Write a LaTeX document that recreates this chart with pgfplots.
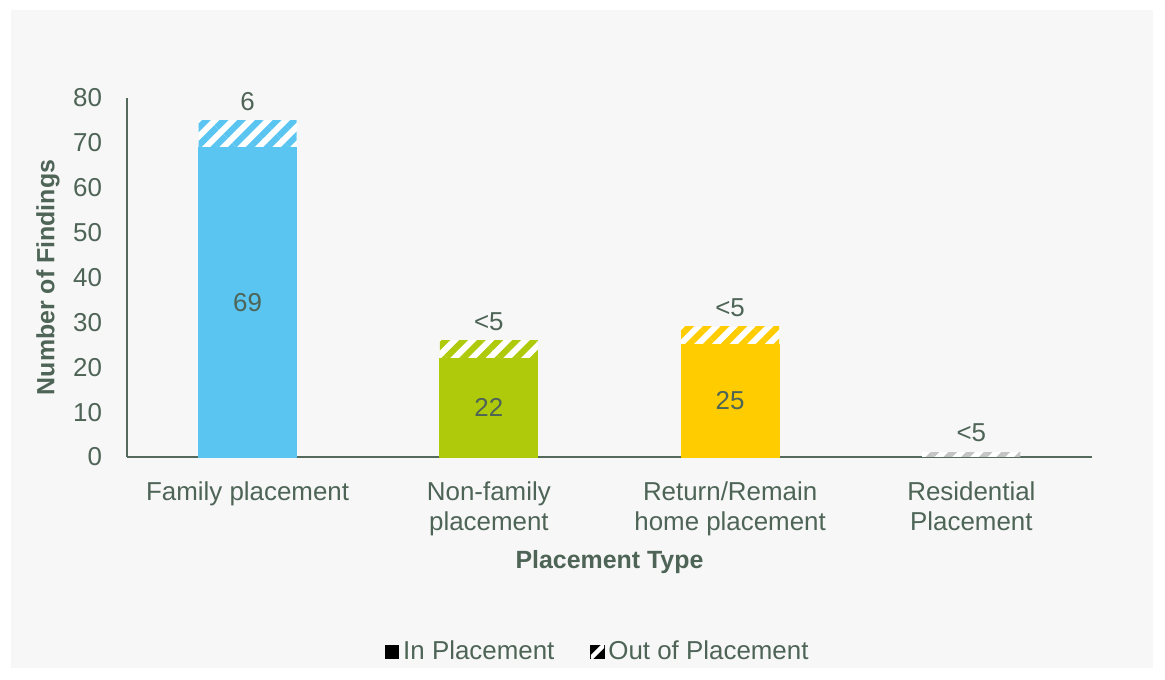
\documentclass[border=0pt]{standalone}
\usepackage{fontspec}
\setmainfont{Liberation Sans}
\usepackage{pgfplots}
\pgfplotsset{compat=1.18}
\usetikzlibrary{patterns.meta}
\definecolor{txt}{HTML}{4D6456}
\definecolor{axc}{HTML}{546A5C}
\definecolor{bg}{HTML}{F7F7F7}
\definecolor{cblue}{HTML}{5BC5F2}
\definecolor{cgreen}{HTML}{AFCA0B}
\definecolor{cyellow}{HTML}{FFCC00}
\definecolor{cgray}{HTML}{C4C4C4}
\newcommand{\tfont}{\fontsize{13}{15}\selectfont}
\tikzset{
  outbar/.style={draw=none, fill=white,
    postaction={pattern={Lines[angle=45,distance=6.25bp,line width=3.1bp]}, pattern color=#1}},
}
\begin{document}
\begin{tikzpicture}
\useasboundingbox (0,0) rectangle (582.5bp,340bp);
\fill[bg] (5.5bp,6bp) rectangle (576.5bp,335bp);
\begin{axis}[
  at={(63.5bp,111.5bp)}, anchor=south west,
  scale only axis, width=482.5bp, height=179.5bp,
  xmin=-0.5, xmax=3.5, ymin=0, ymax=80,
  ytick={0,10,...,80},
  xtick={0,1,2,3},
  xticklabels={Family placement, {Non-family\\placement}, {Return/Remain\\home placement}, {Residential\\Placement}},
  xticklabel style={align=center, text=txt, font=\tfont, yshift=-9bp},
  yticklabel style={text=txt, font=\tfont, xshift=-9bp},
  /pgf/number format/assume math mode=true,
  major tick length=0pt,
  axis x line=bottom, axis y line=left,
  axis line style={axc, line width=1bp, -},
  x axis line style={line width=1.2bp},
  ybar, bar width=49bp, bar shift=0pt,
  xlabel={Placement Type}, ylabel={Number of Findings},
  label style={font=\bfseries\fontsize{12.5}{15}\selectfont, text=txt},
  xlabel style={at={(axis description cs:0.5,-0.2925)}, anchor=center},
  ylabel style={at={(axis description cs:-0.0819,0.5)}, anchor=center, rotate=0},
  nodes near coords style={font=\tfont, text=txt, yshift=1.5bp},
  legend columns=2,
  legend style={draw=none, fill=none, at={(axis description cs:0.489,-0.542)}, anchor=center,
    font=\tfont, text=txt, /tikz/every even column/.append style={column sep=16bp}},
  clip=false,
]
\addlegendimage{legend image code/.code={\fill[black] (-1.5bp,-3.3bp) rectangle (5.1bp,3.3bp);}}
\addlegendentry{In Placement}
\addlegendimage{legend image code/.code={\fill[black] (-1.5bp,-3.3bp) rectangle (5.1bp,3.3bp);
  \begin{scope}\clip (-1.5bp,-3.3bp) rectangle (5.1bp,3.3bp);
  \draw[white, line width=2.2bp] (-1.5bp,-3.3bp) -- (5.1bp,3.3bp);\end{scope}}}
\addlegendentry{Out of Placement}

% totals (out of placement on top)
\addplot[forget plot, outbar=cblue, nodes near coords, point meta=explicit symbolic] coordinates {(0,75) [6]};
\addplot[forget plot, outbar=cgreen, nodes near coords, point meta=explicit symbolic] coordinates {(1,26) [<5]};
\addplot[forget plot, outbar=cyellow, nodes near coords, point meta=explicit symbolic] coordinates {(2,29) [<5]};
\addplot[forget plot, outbar=cgray, nodes near coords, point meta=explicit symbolic] coordinates {(3,1.1) [<5]};
% in placement
\addplot[forget plot, draw=cblue, line width=0.4bp, fill=cblue] coordinates {(0,69)};
\addplot[forget plot, draw=cgreen, line width=0.4bp, fill=cgreen] coordinates {(1,22)};
\addplot[forget plot, draw=cyellow, line width=0.4bp, fill=cyellow] coordinates {(2,25)};

\node[text=txt, font=\tfont] at (axis cs:0,34.5) {69};
\node[text=txt, font=\tfont] at (axis cs:1,11) {22};
\node[text=txt, font=\tfont] at (axis cs:2,12.5) {25};
\end{axis}
\end{tikzpicture}
\end{document}
